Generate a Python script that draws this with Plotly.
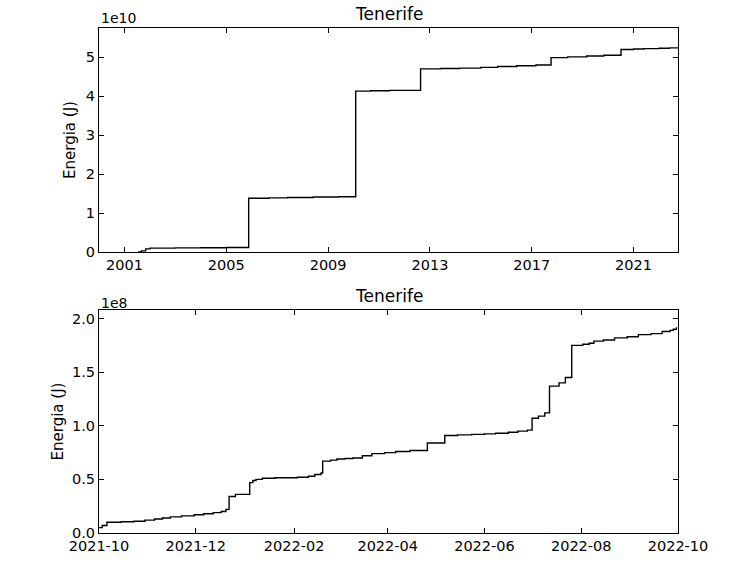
import plotly.graph_objects as go

# ---- Data: cumulative seismic energy, Tenerife ----
long_dates = ["2001-07-15", "2001-09-01", "2001-11-01", "2002-01-01", "2003-01-01",
              "2004-01-01", "2005-01-01", "2005-11-18", "2006-09-01", "2007-06-01",
              "2008-06-01", "2009-06-01", "2010-02-01", "2010-09-01", "2011-06-01",
              "2012-08-20", "2013-06-01", "2014-03-01", "2015-01-01", "2015-09-01",
              "2016-06-01", "2017-03-01", "2017-10-05", "2018-06-01", "2019-03-01",
              "2019-11-01", "2020-07-05", "2021-01-01", "2021-06-01", "2022-01-01",
              "2022-06-01", "2022-09-30"]
long_energy = [0.0, 0.03e10, 0.08e10, 0.10e10, 0.105e10,
               0.11e10, 0.115e10, 1.38e10, 1.39e10, 1.40e10,
               1.41e10, 1.42e10, 4.13e10, 4.14e10, 4.15e10,
               4.70e10, 4.71e10, 4.72e10, 4.74e10, 4.76e10,
               4.78e10, 4.80e10, 4.99e10, 5.01e10, 5.03e10,
               5.05e10, 5.20e10, 5.21e10, 5.22e10, 5.23e10,
               5.24e10, 5.25e10]

short_dates = ["2021-10-01", "2021-10-03", "2021-10-06", "2021-10-15", "2021-10-23",
               "2021-10-30", "2021-11-05", "2021-11-10", "2021-11-15", "2021-11-22",
               "2021-11-30", "2021-12-06", "2021-12-12", "2021-12-17", "2021-12-20",
               "2021-12-22", "2021-12-26", "2022-01-04", "2022-01-06", "2022-01-08",
               "2022-01-12", "2022-01-20", "2022-02-03", "2022-02-10", "2022-02-14",
               "2022-02-18", "2022-02-19", "2022-02-24", "2022-02-28", "2022-03-05",
               "2022-03-10", "2022-03-16", "2022-03-22", "2022-03-30", "2022-04-06",
               "2022-04-15", "2022-04-26", "2022-05-07", "2022-05-15", "2022-05-24",
               "2022-06-01", "2022-06-08", "2022-06-16", "2022-06-22", "2022-06-28",
               "2022-07-01", "2022-07-05", "2022-07-09", "2022-07-12", "2022-07-18",
               "2022-07-22", "2022-07-26", "2022-08-02", "2022-08-06", "2022-08-09",
               "2022-08-15", "2022-08-22", "2022-08-30", "2022-09-06", "2022-09-14",
               "2022-09-21", "2022-09-26", "2022-09-28", "2022-09-30"]
short_energy = [0.05e8, 0.07e8, 0.10e8, 0.105e8, 0.11e8,
                0.12e8, 0.13e8, 0.14e8, 0.15e8, 0.16e8,
                0.17e8, 0.18e8, 0.19e8, 0.20e8, 0.22e8,
                0.34e8, 0.36e8, 0.47e8, 0.49e8, 0.50e8,
                0.51e8, 0.515e8, 0.52e8, 0.53e8, 0.545e8,
                0.56e8, 0.67e8, 0.68e8, 0.69e8, 0.695e8,
                0.70e8, 0.72e8, 0.74e8, 0.75e8, 0.76e8,
                0.77e8, 0.84e8, 0.91e8, 0.915e8, 0.92e8,
                0.925e8, 0.93e8, 0.94e8, 0.95e8, 0.96e8,
                1.07e8, 1.09e8, 1.12e8, 1.37e8, 1.40e8,
                1.45e8, 1.75e8, 1.76e8, 1.77e8, 1.79e8,
                1.80e8, 1.82e8, 1.83e8, 1.85e8, 1.86e8,
                1.88e8, 1.89e8, 1.90e8, 1.92e8]

long_yticks = [0, 1e10, 2e10, 3e10, 4e10, 5e10]
long_yticklabels = ["0", "1", "2", "3", "4", "5"]
short_yticks = [0, 0.5e8, 1.0e8, 1.5e8, 2.0e8]
short_yticklabels = ["0.0", "0.5", "1.0", "1.5", "2.0"]

title_text = "Tenerife"
ylabel = "Energia (J)"

FONT = "DejaVu Sans"
W, H = 750, 562


def px_x(x):
    return x / W


def px_y(y):
    return 1 - y / H


fig = go.Figure()
fig.add_trace(go.Scatter(x=long_dates, y=long_energy, mode="lines",
                         line=dict(color="black", width=1.4, shape="hv"),
                         xaxis="x", yaxis="y", showlegend=False))
fig.add_trace(go.Scatter(x=short_dates, y=short_energy, mode="lines",
                         line=dict(color="black", width=1.4, shape="hv"),
                         xaxis="x2", yaxis="y2", showlegend=False))

xl, xr = px_x(99), px_x(678)
top_dom = [px_y(252), px_y(28)]
bot_dom = [px_y(533), px_y(310)]

axis_common = dict(showline=True, linecolor="black", linewidth=1, mirror="ticks",
                   ticks="inside", ticklen=5, tickcolor="black", showgrid=False,
                   zeroline=False, automargin=False,
                   tickfont=dict(family=FONT, size=14.5, color="black"))

fig.update_layout(
    width=W, height=H,
    margin=dict(l=0, r=0, t=0, b=0),
    paper_bgcolor="white", plot_bgcolor="white",
    font=dict(family=FONT, color="black"),
    xaxis=dict(domain=[xl, xr], anchor="y", type="date",
               range=["2000-01-01", "2022-10-01"],
               tick0="2001-01-01", dtick="M48", tickformat="%Y", **axis_common),
    yaxis=dict(domain=top_dom, anchor="x", range=[0, 5.75e10],
               tickvals=long_yticks, ticktext=long_yticklabels,
               title=dict(text=ylabel, font=dict(family=FONT, size=15), standoff=6),
               **axis_common),
    xaxis2=dict(domain=[xl, xr], anchor="y2", type="date",
                range=["2021-10-01", "2022-10-01"],
                tick0="2021-10-01", dtick="M2", tickformat="%Y-%m", **axis_common),
    yaxis2=dict(domain=bot_dom, anchor="x2", range=[0, 2.08e8],
                tickvals=short_yticks, ticktext=short_yticklabels,
                title=dict(text=ylabel, font=dict(family=FONT, size=15), standoff=4),
                **axis_common),
    annotations=[
        dict(text=title_text, xref="paper", yref="paper", x=(xl + xr) / 2, y=top_dom[1],
             xanchor="center", yanchor="bottom", yshift=2, showarrow=False,
             font=dict(family=FONT, size=17, color="black")),
        dict(text=title_text, xref="paper", yref="paper", x=(xl + xr) / 2, y=bot_dom[1],
             xanchor="center", yanchor="bottom", yshift=2, showarrow=False,
             font=dict(family=FONT, size=17, color="black")),
        dict(text="1e10", xref="paper", yref="paper", x=xl, y=top_dom[1],
             xanchor="left", yanchor="bottom", yshift=0, showarrow=False,
             font=dict(family=FONT, size=14, color="black")),
        dict(text="1e8", xref="paper", yref="paper", x=xl, y=bot_dom[1],
             xanchor="left", yanchor="bottom", yshift=-3, showarrow=False,
             font=dict(family=FONT, size=14, color="black")),
    ],
)

# remove the browser's default 8px page margin so the figure fills the window
fig.write_html("out.html",
               config={"displayModeBar": False},
               post_script="document.body.style.margin='0';document.body.style.overflow='hidden';")
